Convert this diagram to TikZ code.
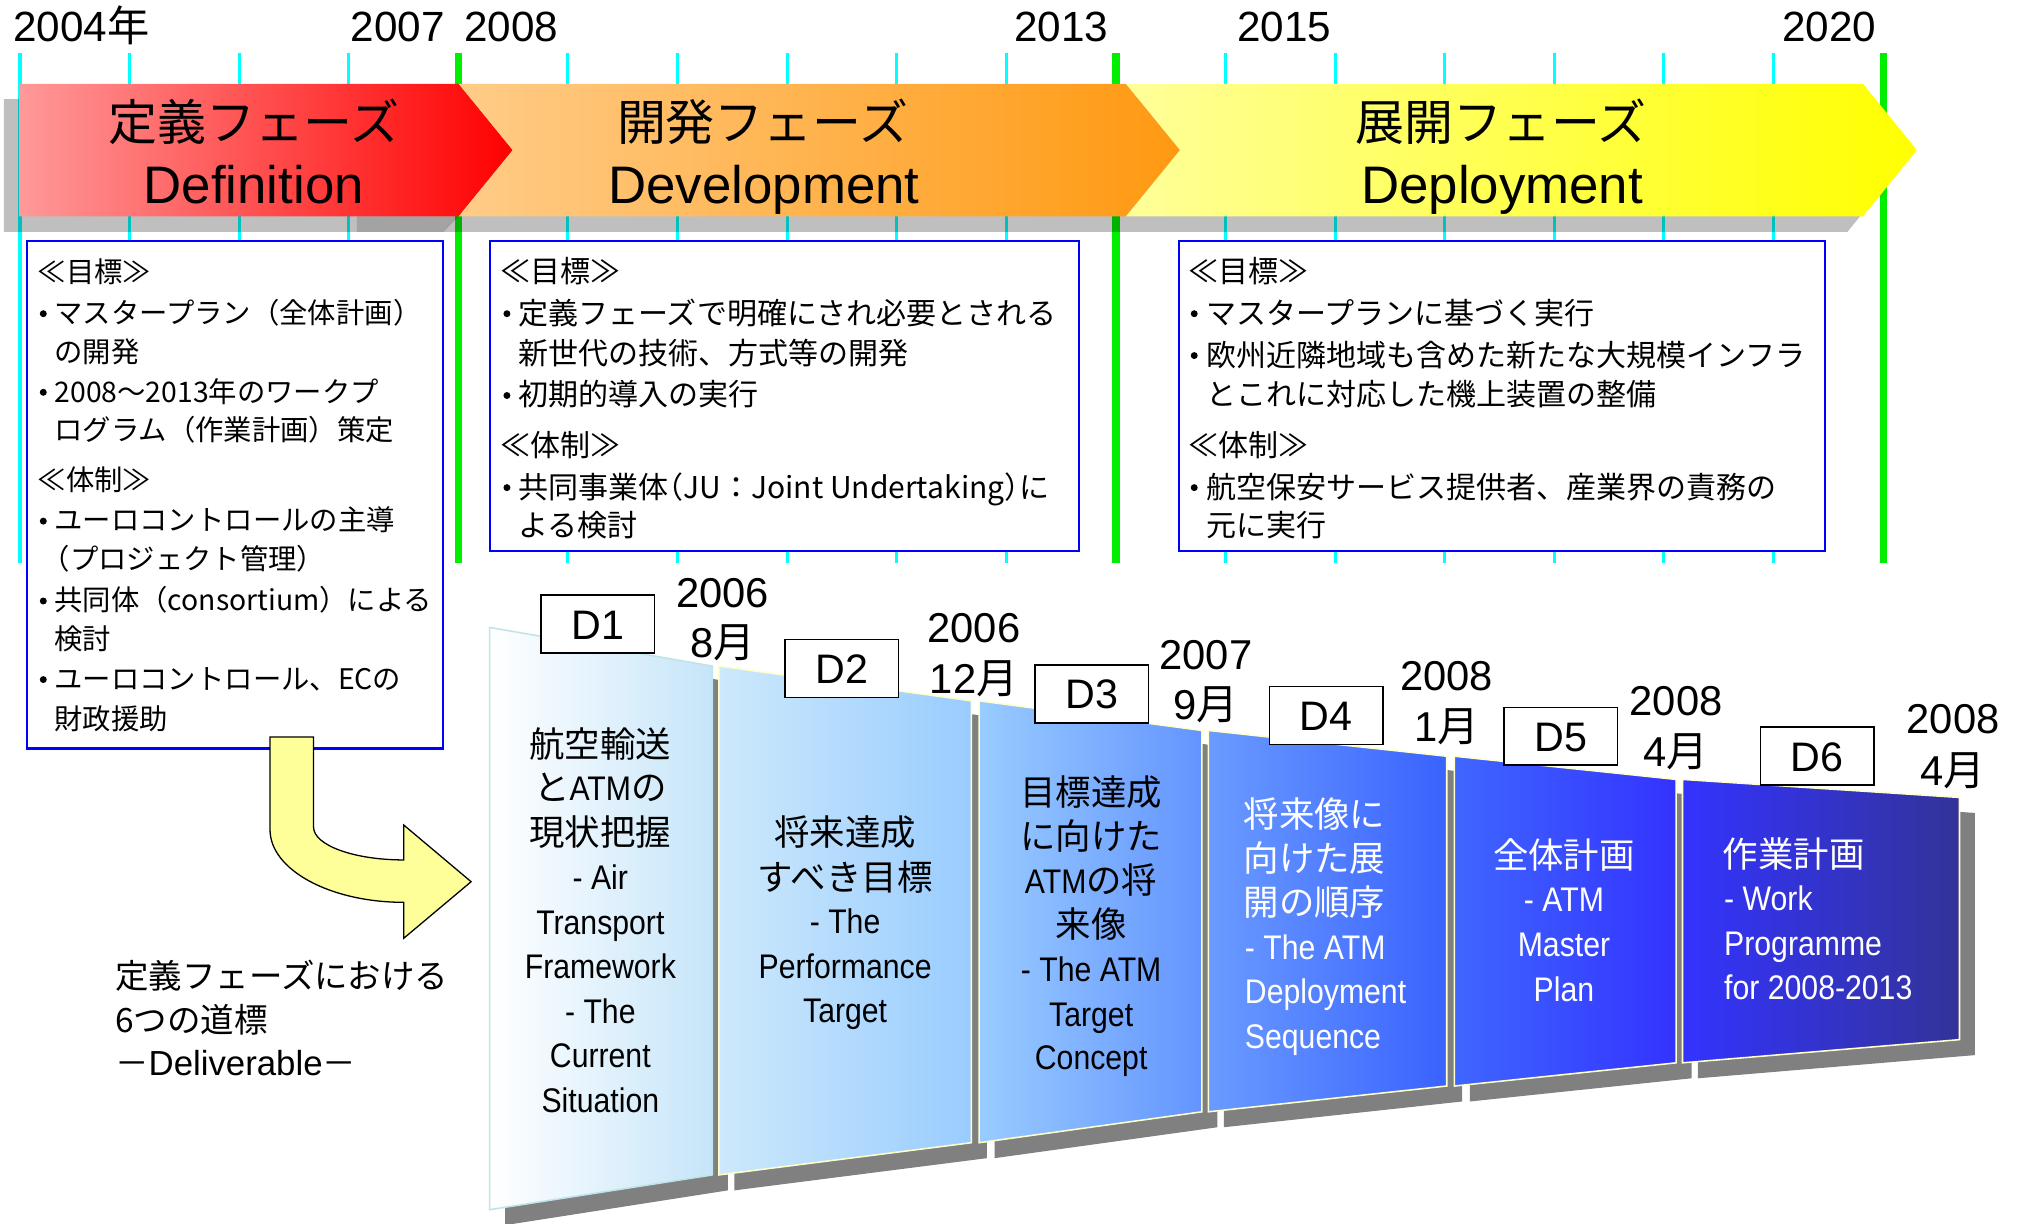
\documentclass[tikz,border=0pt]{standalone}
\usepackage{fontspec}
\setmainfont{Liberation Sans}
\newfontfamily\cjk{Noto Sans CJK JP}
\newfontfamily\nar[FakeStretch=0.885]{Liberation Sans}
\newcommand\la[1]{{\nar\fontsize{13.25}{16}\selectfont #1}}
\newcommand\jj[1]{{\cjk #1}}
\newcommand\hw[1]{{\addfontfeature{RawFeature=+halt}#1}}
\definecolor{tickc}{HTML}{00FFFF}
\definecolor{grn}{HTML}{00EE00}
\definecolor{bblue}{HTML}{0000FF}
\definecolor{arrY}{HTML}{FFFF99}
\definecolor{rA}{HTML}{FF9999}
\definecolor{rB}{HTML}{FF0000}
\definecolor{oA}{HTML}{FFCC88}
\definecolor{oB}{HTML}{FF9911}
\definecolor{yA}{HTML}{FFFF99}
\definecolor{yB}{HTML}{FFFF00}
\definecolor{psh}{HTML}{808080}
\definecolor{pbd}{HTML}{FFFFCC}
\definecolor{pbd1}{HTML}{BFE4E8}
\definecolor{c0}{HTML}{FFFFFF}
\definecolor{c1}{HTML}{C6E5F9}
\definecolor{c2}{HTML}{CDE9FB}
\definecolor{c3}{HTML}{99CCFF}
\definecolor{c4}{HTML}{99CCFF}
\definecolor{c5}{HTML}{6394FF}
\definecolor{c6}{HTML}{6A9BFF}
\definecolor{c7}{HTML}{3A62FF}
\definecolor{c8}{HTML}{3F66FF}
\definecolor{c9}{HTML}{3333FF}
\definecolor{c10}{HTML}{3333FF}
\definecolor{c11}{HTML}{333399}
\tikzset{
  tk/.style={draw=tickc, line width=1.2pt},
  gk/.style={draw=grn, line width=3pt},
  yr/.style={inner sep=0pt, anchor=west, font=\fontsize{16.4}{19}\selectfont, text height=11.8pt, text depth=0pt},
  phj/.style={inner sep=0pt, font=\cjk\fontsize{19}{22}\selectfont, text height=14pt, text depth=0pt},
  phl/.style={inner sep=0pt, font=\fontsize{20.5}{24}\selectfont, text height=14.7pt, text depth=0pt},
  bbox/.style={draw=bblue, line width=0.8pt, fill=white},
  ba/.style={inner sep=0pt, anchor=west, font=\cjk\fontsize{11}{13}\selectfont, text height=8.1pt, text depth=0pt},
  bb/.style={inner sep=0pt, anchor=west, font=\cjk\fontsize{11.65}{13}\selectfont, text height=8.6pt, text depth=0pt},
  bul/.style={circle, fill=black, inner sep=0pt, minimum size=2.7pt},
  pj/.style={inner sep=0pt, font=\cjk\fontsize{13.75}{16}\selectfont, text height=10.2pt, text depth=0pt},
  pl/.style={inner sep=0pt, font=\nar\fontsize{13.25}{16}\selectfont, text height=9.5pt, text depth=0pt},
  wt/.style={text=white},
  dbox/.style={draw=black, fill=white, line width=0.6pt, minimum width=44pt, minimum height=22.5pt, inner sep=0pt, font=\fontsize{16}{19}\selectfont, text height=11.5pt, text depth=0pt},
  dt/.style={inner sep=0pt, font=\fontsize{16.2}{19}\selectfont, text height=11.6pt, text depth=0pt},
  bl/.style={inner sep=0pt, anchor=west, font=\cjk\fontsize{13}{15}\selectfont, text height=9.6pt, text depth=0pt},
  pnl/.style={draw=pbd, line width=0.6pt},
}
\begin{document}
\begin{tikzpicture}[x=0.5pt,y=-0.5pt]
\useasboundingbox (0,0) rectangle (1568,950);

% year labels
\node[yr] (y2004) at (10,20.5) {2004\jj{年}};
\node[yr] (y2007) at (272,20.5) {2007};
\node[yr] (y2008) at (360,20.5) {2008};
\node[yr] (y2013) at (787,20.5) {2013};
\node[yr] (y2015) at (960,20.5) {2015};
\node[yr] (y2020) at (1383,20.5) {2020};

% ticks
\foreach \k in {0,1,2,3,5,6,7,8,9,11,12,13,14,15,16}
  \draw[tk] ({15.5+85.07*\k},41) -- ({15.5+85.07*\k},437);
\foreach \x in {356,866,1462}
  \draw[gk] (\x,41) -- (\x,437);

% phase shadows
\begin{scope}[shift={(-12,12)}]
 \fill[black, fill opacity=0.25] (15,65) -- (356,65) -- (398,116.5) -- (356,168) -- (15,168) -- cycle;
 \fill[black, fill opacity=0.25] (356,65) -- (874,65) -- (916,116.5) -- (874,168) -- (356,168) -- (398,116.5) -- cycle;
 \fill[black, fill opacity=0.25] (874,65) -- (1446,65) -- (1488,116.5) -- (1446,168) -- (874,168) -- (916,116.5) -- cycle;
\end{scope}
\fill[black, fill opacity=0.15] (277,168) -- (356,168) -- (344,180) -- (277,180) -- cycle;

% phase arrows
\shade[left color=rA, right color=rB] (15,65) -- (356,65) -- (398,116.5) -- (356,168) -- (15,168) -- cycle;
\shade[left color=oA, right color=oB] (356,65) -- (874,65) -- (916,116.5) -- (874,168) -- (356,168) -- (398,116.5) -- cycle;
\shade[left color=yA, right color=yB] (874,65) -- (1446,65) -- (1488,116.5) -- (1446,168) -- (874,168) -- (916,116.5) -- cycle;

\node[phj] (ph1j) at (197,95) {定義フェーズ};
\node[phl] (ph1l) at (197,143) {Definition};
\node[phj] (ph2j) at (592,95) {開発フェーズ};
\node[phl] (ph2l) at (593,143) {Development};
\node[phj] (ph3j) at (1165,95) {展開フェーズ};
\node[phl] (ph3l) at (1166,143) {Deployment};

% objective boxes
\draw[bbox] (20.7,187) rectangle (344,581);
\draw[bbox] (380.5,187) rectangle (837.5,427.5);
\draw[bbox] (915,187) rectangle (1416.6,427.5);

% box 1
\node[ba] (a0) at (29,211) {≪目標≫};
\node[bul] (a1b) at (33.6,243.5) {};
\node[ba] (a1) at (42,243) {マスタープラン（全体計画）};
\node[ba] (a2) at (42,273) {の開発};
\node[bul] (a3b) at (33.6,304.5) {};
\node[ba] (a3) at (42,304) {2008～2013年のワークプ};
\node[ba] (a4) at (42,334) {ログラム（作業計画）策定};
\node[ba] (a5) at (29,373) {≪体制≫};
\node[bul] (a6b) at (33.6,404.5) {};
\node[ba] (a6) at (42,404) {ユーロコントロールの主導};
\node[ba] (a7) at (43,434) {\hw{（}プロジェクト管理\hw{）}};
\node[bul] (a8b) at (33.6,466.5) {};
\node[ba] (a8) at (42,466) {共同体（consortium）による};
\node[ba] (a9) at (42,496) {検討};
\node[bul] (a10b) at (33.6,527.5) {};
\node[ba] (a10) at (42,527) {ユーロコントロール、ECの};
\node[ba] (a11) at (42,558) {財政援助};

% box 2
\node[bb] (b0) at (388,211) {≪目標≫};
\node[bul] (b1b) at (393.5,243.5) {};
\node[bb] (b1) at (402,243) {定義フェーズで明確にされ必要とされる};
\node[bb] (b2) at (402,274) {新世代の技術、方式等の開発};
\node[bul] (b3b) at (393.5,307) {};
\node[bb] (b3) at (402,306.5) {初期的導入の実行};
\node[bb] (b4) at (388,345.5) {≪体制≫};
\node[bul] (b5b) at (393.5,378.5) {};
\node[bb] (b5) at (402,378) {共同事業体\hw{（}JU：Joint Undertaking\hw{）}に};
\node[bb] (b6) at (402,407.5) {よる検討};

% box 3
\node[bb] (c0n) at (922,211) {≪目標≫};
\node[bul] (c1b) at (927,243.5) {};
\node[bb] (c1n) at (936,243) {マスタープランに基づく実行};
\node[bul] (c2b) at (927,276) {};
\node[bb] (c2n) at (936,275.5) {欧州近隣地域も含めた新たな大規模インフラ};
\node[bb] (c3n) at (936,306.5) {とこれに対応した機上装置の整備};
\node[bb] (c4n) at (922,345.5) {≪体制≫};
\node[bul] (c5b) at (927,378.5) {};
\node[bb] (c5n) at (936,378) {航空保安サービス提供者、産業界の責務の};
\node[bb] (c6n) at (936,407.5) {元に実行};

% curved arrow
\filldraw[fill=arrY, draw=black, line width=0.5pt] (209.6,572) -- (243.4,572) -- (243.4,642)
  .. controls (243.4,656.1) and (274.7,667.5) .. (313.4,667.5) -- (313.4,640.4) -- (365.7,684.4)
  -- (313.4,728.3) -- (313.4,700.4) .. controls (256.1,700.4) and (209.6,675.1) .. (209.6,644) -- cycle;

% bottom-left caption
\node[bl] (cap1) at (89,758) {定義フェーズにおける};
\node[bl] (cap2) at (89,792) {6つの道標};
\node[bl] (cap3) at (89,825) {－{\fontspec{Liberation Sans}\fontsize{13.5}{15}\selectfont Deliverable}－};

% panel shadows
\begin{scope}[shift={(12,12)}]
 \fill[psh] (380,487) -- (553,517) -- (553,912) -- (380,939) -- cycle;
 \fill[psh] (558,517) -- (754,544) -- (754,887) -- (558,912) -- cycle;
 \fill[psh] (760,544) -- (933,567) -- (933,863) -- (760,887) -- cycle;
 \fill[psh] (938,567) -- (1123,587) -- (1123,843) -- (938,863) -- cycle;
 \fill[psh] (1129,587) -- (1301,605) -- (1301,825) -- (1129,843) -- cycle;
 \fill[psh] (1306,605) -- (1521,619) -- (1521,807) -- (1306,825) -- cycle;
\end{scope}

% panels
\shadedraw[pnl, draw=pbd1, left color=c0, right color=c1] (380,487) -- (553,517) -- (553,912) -- (380,939) -- cycle;
\shadedraw[pnl, left color=c2, right color=c3] (558,517) -- (754,544) -- (754,887) -- (558,912) -- cycle;
\shadedraw[pnl, left color=c4, right color=c5] (760,544) -- (933,567) -- (933,863) -- (760,887) -- cycle;
\shadedraw[pnl, left color=c6, right color=c7] (938,567) -- (1123,587) -- (1123,843) -- (938,863) -- cycle;
\shadedraw[pnl, left color=c8, right color=c9] (1129,587) -- (1301,605) -- (1301,825) -- (1129,843) -- cycle;
\shadedraw[pnl, left color=c10, right color=c11] (1306,605) -- (1521,619) -- (1521,807) -- (1306,825) -- cycle;

% panel 1 text
\node[pj] (p1a) at (466,578) {航空輸送};
\node[pj] (p1b) at (466,611) {と\la{ATM}の};
\node[pj] (p1c) at (466,646) {現状把握};
\node[pl] (p1d) at (466,681) {- Air};
\node[pl] (p1e) at (466,715.5) {Transport};
\node[pl] (p1f) at (466,750) {Framework};
\node[pl] (p1g) at (466,785) {- The};
\node[pl] (p1h) at (466,819) {Current};
\node[pl] (p1i) at (466,854) {Situation};
% panel 2
\node[pj] (p2a) at (656,646) {将来達成};
\node[pj] (p2b) at (656,681) {すべき目標};
\node[pl] (p2c) at (656,715) {- The};
\node[pl] (p2d) at (656,750) {Performance};
\node[pl] (p2e) at (656,784) {Target};
% panel 3
\node[pj] (p3a) at (847,615) {目標達成};
\node[pj] (p3b) at (847,649) {に向けた};
\node[pj] (p3c) at (847,683) {\la{ATM}の将};
\node[pj] (p3d) at (847,717.5) {来像};
\node[pl] (p3e) at (847,752) {- The ATM};
\node[pl] (p3f) at (847,787) {Target};
\node[pl] (p3g) at (847,821) {Concept};
% panel 4
\node[pj, wt, anchor=west] (p4a) at (965,632) {将来像に};
\node[pj, wt, anchor=west] (p4b) at (965,666) {向けた展};
\node[pj, wt, anchor=west] (p4c) at (965,700.5) {開の順序};
\node[pl, wt, anchor=west] (p4d) at (966,735) {- The ATM};
\node[pl, wt, anchor=west] (p4e) at (966,769.5) {Deployment};
\node[pl, wt, anchor=west] (p4f) at (966,804) {Sequence};
% panel 5
\node[pj, wt] (p5a) at (1214,664) {全体計画};
\node[pl, wt] (p5b) at (1214,698) {- ATM};
\node[pl, wt] (p5c) at (1214,733) {Master};
\node[pl, wt] (p5d) at (1214,768) {Plan};
% panel 6
\node[pj, wt, anchor=west] (p6a) at (1337,663) {作業計画};
\node[pl, wt, anchor=west] (p6b) at (1338,697) {- Work};
\node[pl, wt, anchor=west] (p6c) at (1338,732) {Programme};
\node[pl, wt, anchor=west] (p6d) at (1338,766) {for 2008-2013};

% D boxes
\node[dbox] (d1) at (464,484.5) {D1};
\node[dbox] (d2) at (653.5,519) {D2};
\node[dbox] (d3) at (847.5,538.5) {D3};
\node[dbox] (d4) at (1029.5,555.5) {D4};
\node[dbox] (d5) at (1211.5,571.5) {D5};
\node[dbox] (d6) at (1410.5,587) {D6};

% dates
\node[dt] (t1a) at (561,460) {2006};
\node[dt] (t1b) at (561,499) {8\jj{月}};
\node[dt] (t2a) at (756,487) {2006};
\node[dt] (t2b) at (756,527) {12\jj{月}};
\node[dt] (t3a) at (936,508) {2007};
\node[dt] (t3b) at (936,547) {9\jj{月}};
\node[dt] (t4a) at (1123,524) {2008};
\node[dt] (t4b) at (1123,564) {1\jj{月}};
\node[dt] (t5a) at (1301,544) {2008};
\node[dt] (t5b) at (1301,583) {4\jj{月}};
\node[dt] (t6a) at (1516,558) {2008};
\node[dt] (t6b) at (1516,598) {4\jj{月}};
\end{tikzpicture}
\end{document}
